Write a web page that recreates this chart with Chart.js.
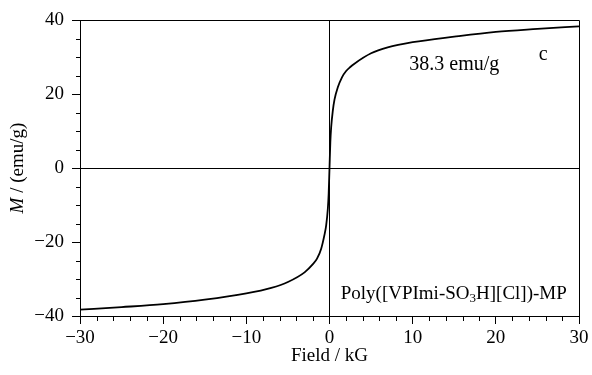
<!DOCTYPE html>
<html>
<head>
<meta charset="utf-8">
<script src="https://cdn.jsdelivr.net/npm/chart.js@4.4.0/dist/chart.umd.min.js"></script>
<style>
  html, body { margin: 0; padding: 0; background: #fff; }
  #wrap { width: 592px; height: 375px; }
</style>
</head>
<body>
<div id="wrap"><canvas id="chart" width="592" height="375"></canvas></div>
<script>
// field (kG) and magnetization (emu/g)
var field = [-30, -25, -20, -15, -10, -7, -5, -3, -2, -1.5, -1, -0.6, -0.4, -0.2, -0.1, 0,
  0.1, 0.2, 0.4, 0.6, 1, 1.5, 2, 2.5, 3, 5, 7, 10, 15, 20, 25, 30];
var moment = [-38.3, -37.6, -36.8, -35.6, -33.9, -32.4, -30.8, -28.2, -26.0, -24.5, -21.8, -18.0, -15.5, -11.0, -7.0, 0,
  7.0, 11.0, 15.5, 18.5, 21.8, 24.5, 26.2, 27.3, 28.2, 31.0, 32.6, 34.0, 35.5, 36.8, 37.6, 38.3];

var xMajor = [-30, -20, -10, 0, 10, 20, 30];
var yMajor = [-40, -20, 0, 20, 40];

var satLabel = "38.3 emu/g";
var curveLabel = "c";
var sampleLabel = ["Poly([VPImi-SO", "3", "H][Cl])-MP"];

var FONT = "'Liberation Serif', 'Times New Roman', serif";

function minus(v) {
  return String(v).replace("-", "\u2212");
}

var points = field.map(function (f, i) {
  return { x: f, y: moment[i] };
});

var extras = {
  id: "extras",
  afterDraw: function (chart) {
    var ctx = chart.ctx;
    var a = chart.chartArea;
    var xs = chart.scales.x;
    var ys = chart.scales.y;
    ctx.save();
    ctx.strokeStyle = "#000";
    ctx.lineWidth = 1;
    // top and right frame
    ctx.beginPath();
    ctx.moveTo(a.left, a.top + 0.5);
    ctx.lineTo(a.right + 0.5, a.top + 0.5);
    ctx.lineTo(a.right + 0.5, a.bottom);
    ctx.stroke();
    // minor ticks
    ctx.beginPath();
    for (var v = -30; v <= 30; v += 2) {
      if (v % 10 === 0) continue;
      var px = Math.round(xs.getPixelForValue(v)) + 0.5;
      ctx.moveTo(px, a.bottom);
      ctx.lineTo(px, a.bottom + 5);
    }
    for (var w = -40; w <= 40; w += 5) {
      if (w % 20 === 0) continue;
      var py = Math.round(ys.getPixelForValue(w)) + 0.5;
      ctx.moveTo(a.left, py);
      ctx.lineTo(a.left - 4, py);
    }
    ctx.stroke();

    ctx.fillStyle = "#000";
    ctx.font = "20px " + FONT;
    ctx.textBaseline = "alphabetic";
    ctx.textAlign = "center";
    ctx.fillText(satLabel, xs.getPixelForValue(15), ys.getPixelForValue(26.5));
    ctx.fillText(curveLabel, xs.getPixelForValue(25.7), ys.getPixelForValue(29.3));

    // sample name with subscript
    ctx.textAlign = "left";
    var x0 = xs.getPixelForValue(1.35);
    var y0 = ys.getPixelForValue(-35.5);
    ctx.font = "19px " + FONT;
    ctx.fillText(sampleLabel[0], x0, y0);
    x0 += ctx.measureText(sampleLabel[0]).width;
    ctx.font = "13px " + FONT;
    ctx.fillText(sampleLabel[1], x0, y0 + 3);
    x0 += ctx.measureText(sampleLabel[1]).width;
    ctx.font = "19px " + FONT;
    ctx.fillText(sampleLabel[2], x0, y0);

    // axis titles
    ctx.textAlign = "center";
    ctx.textBaseline = "middle";
    ctx.fillText("Field / kG", (a.left + a.right) / 2, 356);

    ctx.translate(18, (a.top + a.bottom) / 2);
    ctx.rotate(-Math.PI / 2);
    ctx.font = "italic 19px " + FONT;
    var m = "M";
    var rest = " / (emu/g)";
    var mw = ctx.measureText(m).width;
    ctx.font = "19px " + FONT;
    var rw = ctx.measureText(rest).width;
    ctx.textAlign = "left";
    ctx.font = "italic 19px " + FONT;
    ctx.fillText(m, -(mw + rw) / 2, 0);
    ctx.font = "19px " + FONT;
    ctx.fillText(rest, -(mw + rw) / 2 + mw, 0);
    ctx.restore();
  }
};

function zeroLine(c) {
  return c.tick && c.tick.value === 0 ? "#000" : "rgba(0,0,0,0)";
}

new Chart(document.getElementById("chart"), {
  type: "line",
  data: {
    datasets: [
      {
        data: points,
        borderColor: "#000",
        borderWidth: 1.8,
        pointRadius: 0,
        fill: false,
        cubicInterpolationMode: "monotone"
      }
    ]
  },
  options: {
    responsive: false,
    animation: false,
    devicePixelRatio: 1,
    layout: { padding: { top: 20, right: 13, left: 0, bottom: 0 } },
    plugins: { legend: { display: false }, tooltip: { enabled: false } },
    scales: {
      x: {
        type: "linear",
        min: -30,
        max: 30,
        afterFit: function (s) { s.height = 59; },
        afterBuildTicks: function (s) {
          s.ticks = xMajor.map(function (v) { return { value: v }; });
        },
        ticks: {
          font: { family: FONT, size: 19 },
          color: "#000",
          padding: 3,
          maxRotation: 0,
          callback: function (v) { return minus(v); }
        },
        grid: {
          color: zeroLine,
          tickColor: "#000",
          tickLength: 8,
          lineWidth: 1
        },
        border: { display: true, color: "#000", width: 1 }
      },
      y: {
        type: "linear",
        min: -40,
        max: 40,
        afterFit: function (s) { s.width = 80; },
        afterBuildTicks: function (s) {
          s.ticks = yMajor.map(function (v) { return { value: v }; });
        },
        ticks: {
          font: { family: FONT, size: 19 },
          color: "#000",
          padding: 8,
          callback: function (v) { return minus(v); }
        },
        grid: {
          color: zeroLine,
          tickColor: "#000",
          tickLength: 8,
          lineWidth: 1
        },
        border: { display: true, color: "#000", width: 1 }
      }
    }
  },
  plugins: [extras]
});
</script>
</body>
</html>
